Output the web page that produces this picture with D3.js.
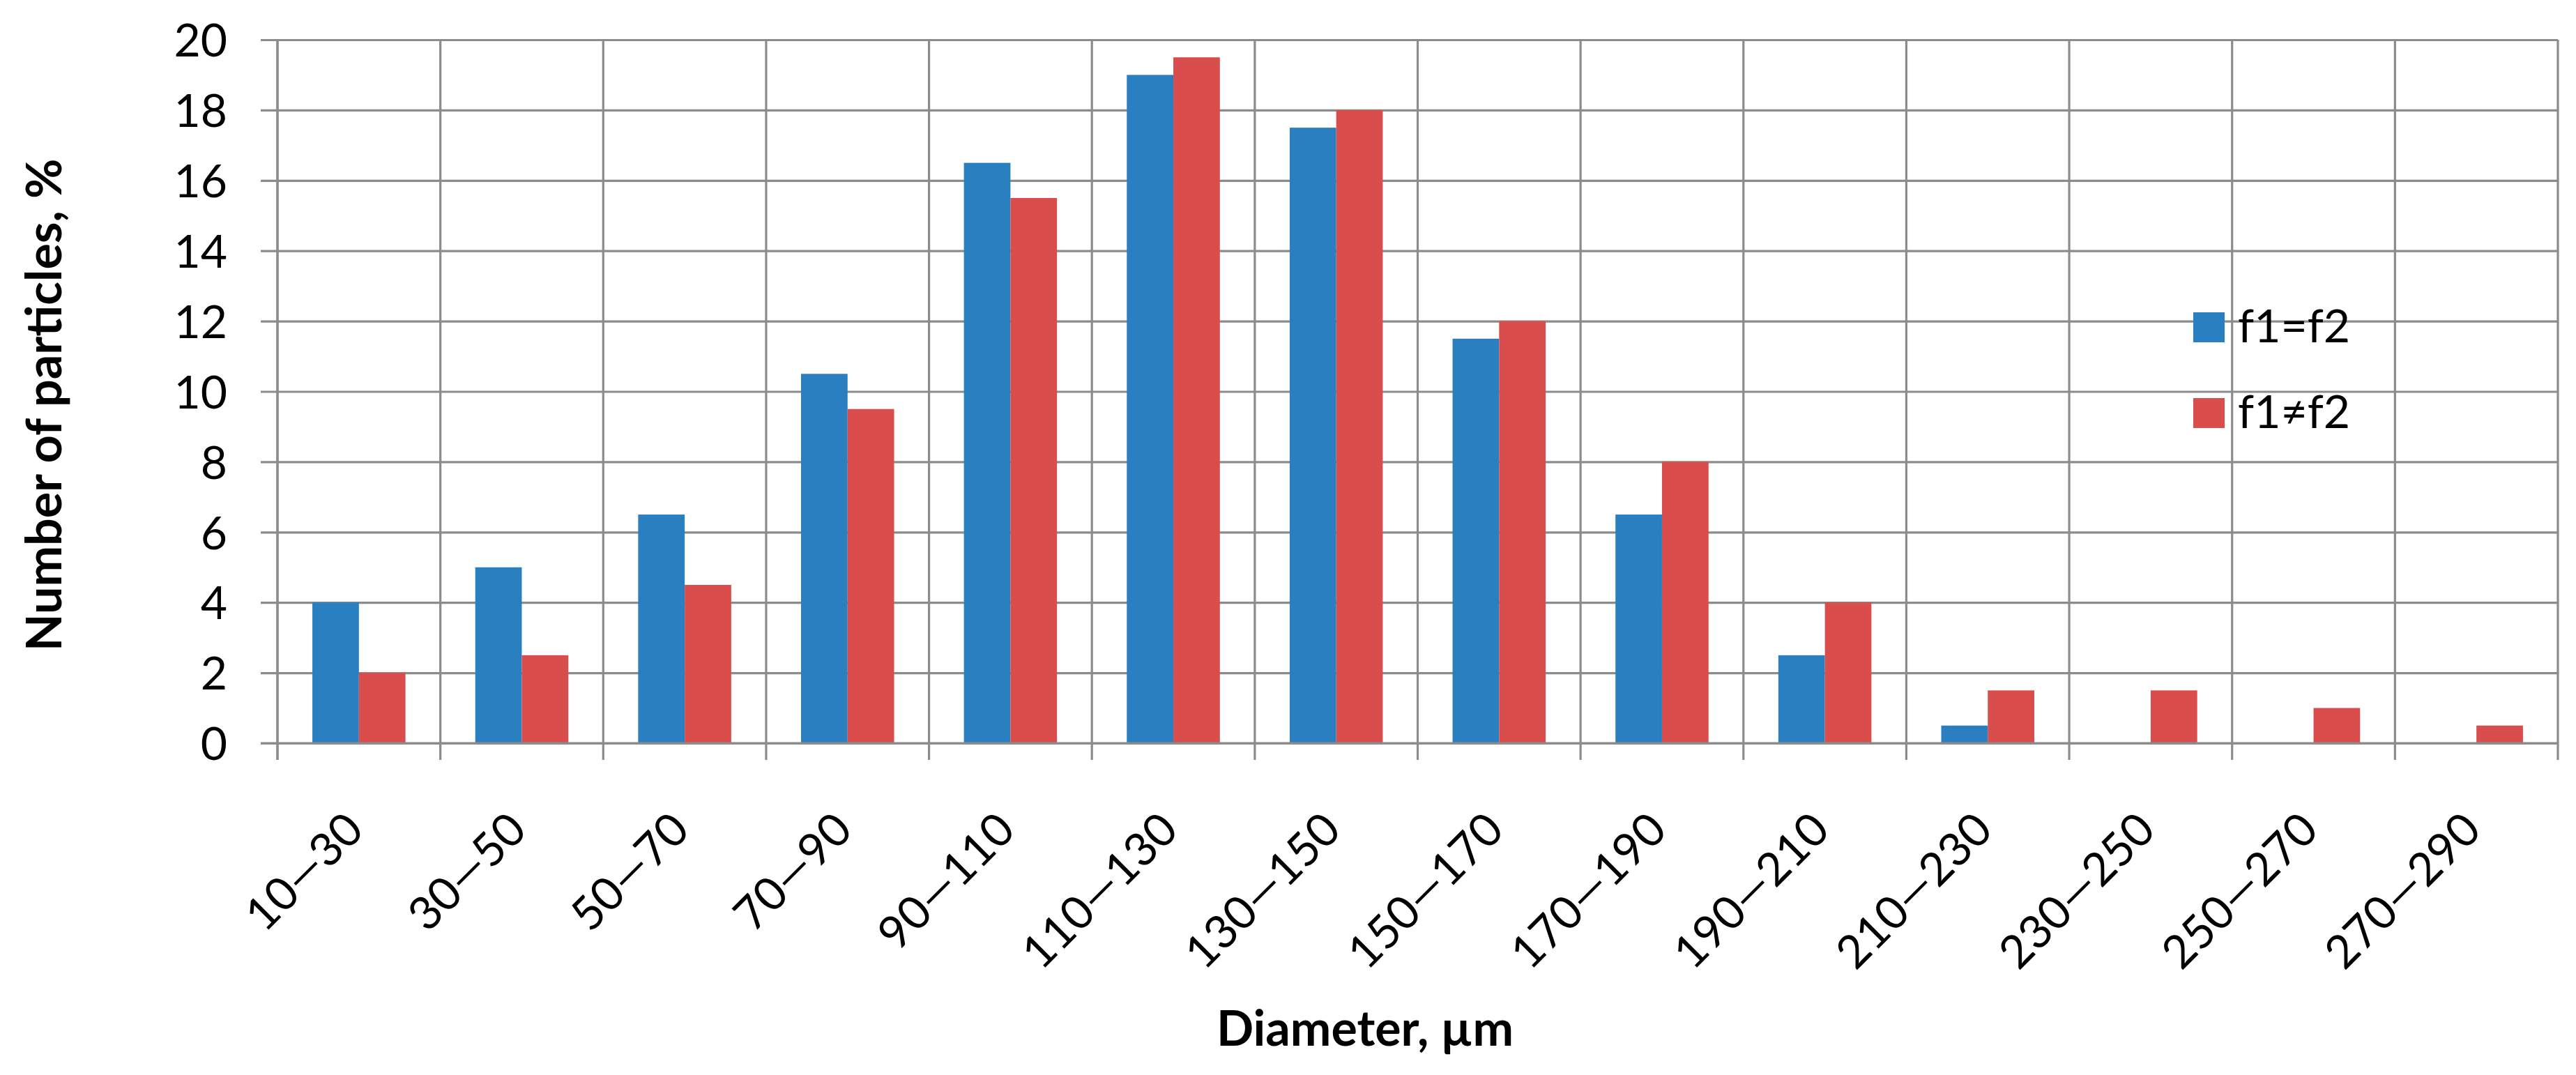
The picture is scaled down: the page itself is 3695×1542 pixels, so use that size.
<!DOCTYPE html>
<html>
<head>
<meta charset="utf-8">
<script src="https://cdn.jsdelivr.net/npm/d3@7/dist/d3.min.js"></script>
<style>
  html, body { margin: 0; padding: 0; background: #fff; }
  svg { display: block; }
  text { font-family: Lato, "Open Sans", sans-serif; fill: #000; }
</style>
</head>
<body>
<svg id="chart" width="3695" height="1542"></svg>
<script>
const categories = ["10\u201430","30\u201450","50\u201470","70\u201490","90\u2014110","110\u2014130","130\u2014150","150\u2014170","170\u2014190","190\u2014210","210\u2014230","230\u2014250","250\u2014270","270\u2014290"];
const seriesNames = ["f1=f2", "f1\u2260f2"];
const seriesEqual = [4, 5, 6.5, 10.5, 16.5, 19, 17.5, 11.5, 6.5, 2.5, 0.5, 0, 0, 0];
const seriesNotEqual = [2, 2.5, 4.5, 9.5, 15.5, 19.5, 18, 12, 8, 4, 1.5, 1.5, 1, 0.5];
const yTicks = [0, 2, 4, 6, 8, 10, 12, 14, 16, 18, 20];
const colors = ["#2a7fc0", "#d94e4d"];

const svg = d3.select("#chart");
const W = 3695, H = 1542;
const m = { left: 398, right: 26, top: 57, bottom: 1542 - 1066 };
const gridColor = "#8c8c8c";
const gw = 3.2;

const x = d3.scaleBand().domain(categories).range([m.left, W - m.right]).paddingInner(0).paddingOuter(0);
const y = d3.scaleLinear().domain([0, 20]).range([H - m.bottom, m.top]);
const sub = d3.scaleBand().domain(seriesNames).range([0, x.bandwidth()]).paddingInner(0).paddingOuter(0.75);

// horizontal gridlines + y ticks
const yAxis = d3.axisLeft(y).tickValues(yTicks).tickSize(24).tickPadding(48).tickFormat(d3.format("d"));
const yg = svg.append("g").attr("transform", `translate(${m.left},0)`).call(yAxis);
yg.select(".domain").remove();
yg.selectAll(".tick line").attr("x2", -24).attr("x1", W - m.right - m.left).attr("stroke", gridColor).attr("stroke-width", gw);
yg.selectAll(".tick text").style("font-size", "66px").attr("dy", "0.36em");

// vertical gridlines at category boundaries
const bounds = categories.map(c => x(c)).concat([x(categories[categories.length - 1]) + x.bandwidth()]);
svg.append("g").selectAll("line").data(bounds).join("line")
  .attr("x1", d => d).attr("x2", d => d)
  .attr("y1", m.top).attr("y2", y(0) + 24)
  .attr("stroke", gridColor).attr("stroke-width", gw);

// bars
const data = categories.map((c, i) => ({ c, vals: [seriesEqual[i], seriesNotEqual[i]] }));
const groups = svg.append("g").selectAll("g").data(data).join("g")
  .attr("transform", d => `translate(${x(d.c)},0)`);
groups.selectAll("rect").data(d => d.vals.map((v, k) => ({ v, k }))).join("rect")
  .attr("x", d => sub(seriesNames[d.k]))
  .attr("width", sub.bandwidth())
  .attr("y", d => y(d.v))
  .attr("height", d => y(0) - y(d.v))
  .attr("fill", d => colors[d.k]);

// x axis labels
const xAxis = d3.axisBottom(x).tickSize(0).tickPadding(0);
const xg = svg.append("g").attr("transform", `translate(0,${y(0)})`).call(xAxis);
xg.select(".domain").remove();
xg.selectAll(".tick text")
  .style("font-size", "66px")
  .attr("text-anchor", "end")
  .attr("y", 0)
  .attr("dy", "0")
  .attr("transform", "translate(10,128) rotate(-45)");

// baseline and y axis on top
svg.append("line").attr("x1", m.left - 24).attr("x2", W - m.right).attr("y1", y(0)).attr("y2", y(0))
  .attr("stroke", gridColor).attr("stroke-width", gw);
svg.append("line").attr("x1", m.left).attr("x2", m.left).attr("y1", m.top).attr("y2", y(0) + 24)
  .attr("stroke", gridColor).attr("stroke-width", gw);

// axis titles
svg.append("text").attr("x", 1958).attr("y", 1500).attr("text-anchor", "middle")
  .style("font-size", "70px").style("font-weight", "bold").text("Diameter, \u00b5m");
svg.append("text").attr("transform", "translate(88,581) rotate(-90)").attr("text-anchor", "middle")
  .style("font-size", "70px").style("font-weight", "bold").text("Number of particles, %");

// legend
const lg = svg.append("g").attr("transform", "translate(3146,448)");
const li = lg.selectAll("g").data(seriesNames).join("g").attr("transform", (d, i) => `translate(0,${i * 123})`);
li.append("rect").attr("width", 45).attr("height", 43).attr("fill", (d, i) => colors[i]);
li.append("text").attr("x", 64).attr("y", 43).style("font-size", "66px").text(d => d);
</script>
</body>
</html>
